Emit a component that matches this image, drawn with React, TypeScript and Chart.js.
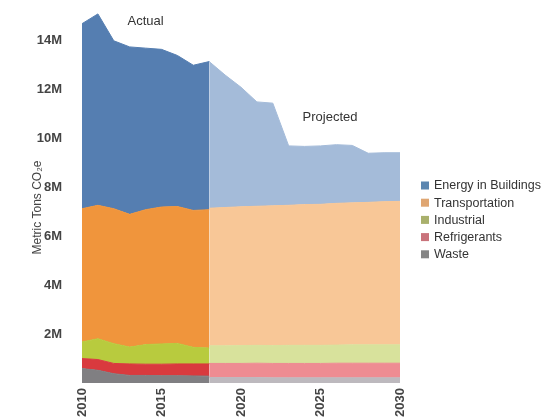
import React, { useEffect, useRef } from "react";
import { Chart, registerables } from "chart.js";

Chart.register(...registerables);

const YEARS = ["2010","2011","2012","2013","2014","2015","2016","2017","2018","2019","2020","2021","2022","2023","2024","2025","2026","2027","2028","2029","2030"];
const SERIES_NAMES = ["Waste", "Refrigerants", "Industrial", "Transportation", "Energy in Buildings"];

// Actual values (2010–2018), million metric tons CO2e
const ACTUAL_WASTE = [0.59, 0.52, 0.38, 0.31, 0.31, 0.30, 0.30, 0.29, 0.28];
const ACTUAL_REFRIGERANTS = [0.41, 0.44, 0.42, 0.47, 0.46, 0.47, 0.48, 0.49, 0.50];
const ACTUAL_INDUSTRIAL = [0.68, 0.85, 0.81, 0.69, 0.80, 0.83, 0.84, 0.68, 0.65];
const ACTUAL_TRANSPORTATION = [5.45, 5.46, 5.52, 5.43, 5.52, 5.60, 5.60, 5.60, 5.66];
const ACTUAL_ENERGY = [7.57, 7.83, 6.87, 6.85, 6.61, 6.45, 6.18, 5.94, 6.06];

// Projected values (2018–2030)
const PROJ_WASTE = [0.22, 0.22, 0.22, 0.22, 0.21, 0.21, 0.21, 0.21, 0.21, 0.21, 0.21, 0.21, 0.21];
const PROJ_REFRIGERANTS = [0.58, 0.58, 0.58, 0.59, 0.59, 0.59, 0.59, 0.59, 0.60, 0.60, 0.60, 0.60, 0.60];
const PROJ_INDUSTRIAL = [0.72, 0.72, 0.73, 0.73, 0.73, 0.74, 0.74, 0.74, 0.74, 0.75, 0.75, 0.75, 0.75];
const PROJ_TRANSPORTATION = [5.63, 5.66, 5.68, 5.69, 5.72, 5.73, 5.76, 5.77, 5.80, 5.81, 5.83, 5.86, 5.87];
const PROJ_ENERGY = [6.00, 5.42, 4.89, 4.27, 4.20, 2.43, 2.38, 2.39, 2.40, 2.35, 2.01, 2.00, 1.99];

const Y_TICKS = [2, 4, 6, 8, 10, 12, 14];
const X_TICK_YEARS = ["2010", "2015", "2020", "2025", "2030"];
const Y_TITLE = "Metric Tons CO₂e";
const PHASE_LABELS = ["Actual", "Projected"];
const PHASE_ANCHORS = [[4, 14.8], [15.6, 10.85]];

const ACTUAL_COLORS = ["#807f82", "#d93a3e", "#b8cb3e", "#f0953c", "#557eb1"];
const PROJ_COLORS = ["#bdb9be", "#ee8c92", "#d8e29c", "#f8c797", "#a4bbd9"];
const LEGEND_COLORS = ["#858585", "#c9737b", "#a9b06c", "#dfa672", "#5b86b0"];

const FONT = '"Liberation Sans", Arial, sans-serif';

const ACTUAL_START = 0;
const PROJ_START = 8;

function place(values: number[], start: number): (number | null)[] {
  return YEARS.map((_, i) => (i >= start && i < start + values.length ? values[i - start] : null));
}

const textPlugin = {
  id: "extraText",
  afterDatasetsDraw(chart: any) {
    const { ctx, scales, chartArea } = chart;
    ctx.save();
    // phase annotations
    ctx.font = `13px ${FONT}`;
    ctx.fillStyle = "#333";
    ctx.textAlign = "center";
    ctx.textBaseline = "middle";
    PHASE_LABELS.forEach((t, i) => {
      const [xv, yv] = PHASE_ANCHORS[i];
      ctx.fillText(t, scales.x.getPixelForValue(xv), scales.y.getPixelForValue(yv));
    });
    // y axis title
    ctx.save();
    ctx.translate(38, chart.height / 2 - 2);
    ctx.rotate(-Math.PI / 2);
    ctx.font = `12px ${FONT}`;
    ctx.fillStyle = "#444";
    ctx.fillText(Y_TITLE, 0, 0);
    ctx.restore();
    // legend
    const lx = chartArea.right + 21;
    const ly0 = chart.height / 2 - 24;
    ctx.font = `12.5px ${FONT}`;
    ctx.textAlign = "left";
    ctx.textBaseline = "middle";
    const order = SERIES_NAMES.map((_, i) => i).reverse();
    order.forEach((si, row) => {
      const cy = ly0 + row * 17.2;
      ctx.fillStyle = LEGEND_COLORS[si];
      ctx.fillRect(lx, cy - 4, 8, 8);
      ctx.fillStyle = "#333";
      ctx.fillText(SERIES_NAMES[si], lx + 13, cy + 0.5);
    });
    ctx.restore();
  },
};

export default function App() {
  const ref = useRef<HTMLCanvasElement | null>(null);
  useEffect(() => {
    if (!ref.current) return;
    const actual = [ACTUAL_WASTE, ACTUAL_REFRIGERANTS, ACTUAL_INDUSTRIAL, ACTUAL_TRANSPORTATION, ACTUAL_ENERGY];
    const proj = [PROJ_WASTE, PROJ_REFRIGERANTS, PROJ_INDUSTRIAL, PROJ_TRANSPORTATION, PROJ_ENERGY];
    const mk = (vals: number[], start: number, i: number, color: string, stack: string) => ({
      label: SERIES_NAMES[i],
      data: place(vals, start),
      stack,
      backgroundColor: color,
      borderColor: color,
      borderWidth: 1,
      pointRadius: 0,
      fill: i === 0 ? "origin" : "-1",
      tension: 0,
      spanGaps: false,
      clip: false as any,
    });
    const datasets = [
      ...actual.map((v, i) => mk(v, ACTUAL_START, i, ACTUAL_COLORS[i], "actual")),
      ...proj.map((v, i) => mk(v, PROJ_START, i, PROJ_COLORS[i], "projected")),
    ];
    const chart = new Chart(ref.current, {
      type: "line",
      data: { labels: YEARS, datasets },
      plugins: [textPlugin],
      options: {
        animation: false,
        responsive: true,
        maintainAspectRatio: false,
        layout: { padding: { left: 27, top: 3, right: 145, bottom: 0 } },
        plugins: {
          tooltip: { enabled: false },
          legend: { display: false },
        },
        scales: {
          x: {
            type: "category",
            offset: false,
            grid: { display: false, drawTicks: true, tickLength: 5 },
            border: { display: false },
            afterFit: (s: any) => { s.height = 36; },
            ticks: {
              autoSkip: false,
              maxRotation: 90,
              minRotation: 90,
              padding: 0,
              color: "#444",
              font: { family: FONT, size: 13, weight: "bold" },
              callback: (_v: any, i: number) => (X_TICK_YEARS.includes(YEARS[i]) ? YEARS[i] : ""),
            },
          },
          y: {
            stacked: true,
            min: 0,
            max: 15.35,
            grid: { display: false, drawTicks: true, tickLength: 20 },
            border: { display: false },
            afterFit: (s: any) => { s.width = 55; },
            afterBuildTicks: (s: any) => { s.ticks = Y_TICKS.map((v) => ({ value: v })); },
            ticks: {
              padding: 0,
              color: "#444",
              font: { family: FONT, size: 13, weight: "bold" },
              callback: (v: any) => `${v}M`,
            },
          },
        },
      } as any,
    });
    return () => chart.destroy();
  }, []);
  return (
    <div style={{ position: "fixed", left: 0, top: 0, width: 545, height: 419, background: "#fff" }}>
      <canvas ref={ref} />
    </div>
  );
}
